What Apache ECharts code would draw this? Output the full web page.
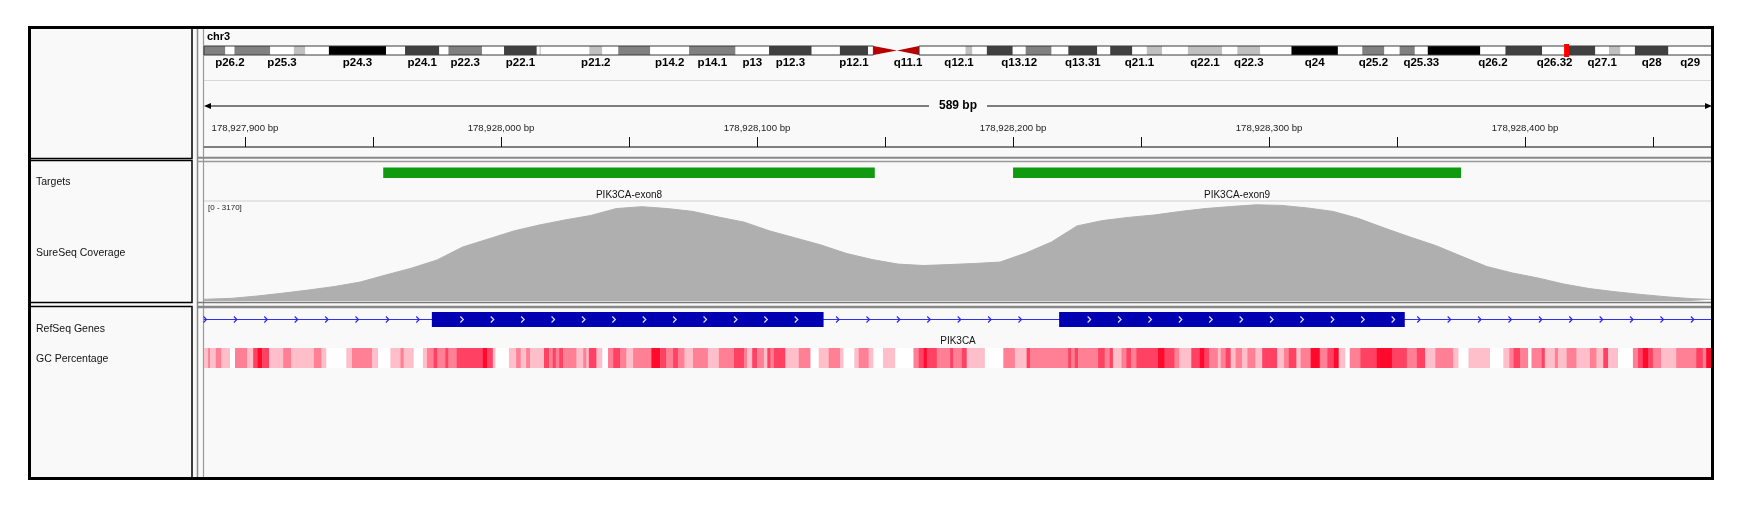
<!DOCTYPE html>
<html>
<head>
<meta charset="utf-8">
<script src="https://cdn.jsdelivr.net/npm/echarts@6/dist/echarts.min.js"></script>
<style>
html, body { margin: 0; padding: 0; background: #fff; }
#main { width: 1752px; height: 511px; }
</style>
</head>
<body>
<div id="main"></div>
<script>
// visible window on chr3 (bp)
var viewStart = 178927884;
var viewEnd = 178928473;
var BASE = 178927000;

// chr3 cytobands: name, start (Mb), end (Mb), stain
var chr3Length = 198.02243;
var chr3Bands = [
  ['p26.3', 0, 2.8, 'gpos50'], ['p26.2', 2.8, 4.0, 'gneg'], ['p26.1', 4.0, 8.7, 'gpos50'],
  ['p25.3', 8.7, 11.8, 'gneg'], ['p25.2', 11.8, 13.3, 'gpos25'], ['p25.1', 13.3, 16.4, 'gneg'],
  ['p24.3', 16.4, 23.9, 'gpos100'], ['p24.2', 23.9, 26.4, 'gneg'], ['p24.1', 26.4, 30.9, 'gpos75'],
  ['p23', 30.9, 32.1, 'gneg'], ['p22.3', 32.1, 36.5, 'gpos50'], ['p22.2', 36.5, 39.4, 'gneg'],
  ['p22.1', 39.4, 43.7, 'gpos75'], ['p21.33', 43.7, 44.1, 'gneg'], ['p21.32', 44.1, 44.2, 'gpos50'],
  ['p21.31', 44.2, 50.6, 'gneg'], ['p21.2', 50.6, 52.3, 'gpos25'], ['p21.1', 52.3, 54.4, 'gneg'],
  ['p14.3', 54.4, 58.6, 'gpos50'], ['p14.2', 58.6, 63.7, 'gneg'], ['p14.1', 63.7, 69.8, 'gpos50'],
  ['p13', 69.8, 74.2, 'gneg'], ['p12.3', 74.2, 79.8, 'gpos75'], ['p12.2', 79.8, 83.5, 'gneg'],
  ['p12.1', 83.5, 87.2, 'gpos75'], ['p11.2', 87.2, 87.9, 'gneg'], ['p11.1', 87.9, 91.0, 'acen'],
  ['q11.1', 91.0, 93.9, 'acen'], ['q11.2', 93.9, 98.3, 'gvar'], ['q12.1', 98.3, 100.0, 'gneg'],
  ['q12.2', 100.0, 100.9, 'gpos25'], ['q12.3', 100.9, 102.8, 'gneg'], ['q13.11', 102.8, 106.2, 'gpos75'],
  ['q13.12', 106.2, 107.9, 'gneg'], ['q13.13', 107.9, 111.3, 'gpos50'], ['q13.2', 111.3, 113.5, 'gneg'],
  ['q13.31', 113.5, 117.3, 'gpos75'], ['q13.32', 117.3, 119.0, 'gneg'], ['q13.33', 119.0, 121.9, 'gpos75'],
  ['q21.1', 121.9, 123.8, 'gneg'], ['q21.2', 123.8, 125.8, 'gpos25'], ['q21.3', 125.8, 129.2, 'gneg'],
  ['q22.1', 129.2, 133.7, 'gpos25'], ['q22.2', 133.7, 135.7, 'gneg'], ['q22.3', 135.7, 138.7, 'gpos25'],
  ['q23', 138.7, 142.8, 'gneg'], ['q24', 142.8, 148.9, 'gpos100'], ['q25.1', 148.9, 152.1, 'gneg'],
  ['q25.2', 152.1, 155.0, 'gpos50'], ['q25.31', 155.0, 157.0, 'gneg'], ['q25.32', 157.0, 159.0, 'gpos50'],
  ['q25.33', 159.0, 160.7, 'gneg'], ['q26.1', 160.7, 167.6, 'gpos100'], ['q26.2', 167.6, 170.9, 'gneg'],
  ['q26.31', 170.9, 175.7, 'gpos75'], ['q26.32', 175.7, 179.0, 'gneg'], ['q26.33', 179.0, 182.7, 'gpos75'],
  ['q27.1', 182.7, 184.5, 'gneg'], ['q27.2', 184.5, 186.0, 'gpos25'], ['q27.3', 186.0, 187.9, 'gneg'],
  ['q28', 187.9, 192.3, 'gpos75'], ['q29', 192.3, 198.02243, 'gneg']
];
var labeledBands = ['p26.2', 'p25.3', 'p24.3', 'p24.1', 'p22.3', 'p22.1', 'p21.2', 'p14.2', 'p14.1',
  'p13', 'p12.3', 'p12.1', 'q11.1', 'q12.1', 'q13.12', 'q13.31', 'q21.1', 'q22.1', 'q22.3', 'q24',
  'q25.2', 'q25.33', 'q26.2', 'q26.32', 'q27.1', 'q28', 'q29'];

// ruler
var rulerTicks = [178927900, 178927950, 178928000, 178928050, 178928100, 178928150,
  178928200, 178928250, 178928300, 178928350, 178928400, 178928450];
var rulerLabels = [178927900, 178928000, 178928100, 178928200, 178928300, 178928400];

// target regions
var targetNames = ['PIK3CA-exon8', 'PIK3CA-exon9'];
var targetStarts = [178927954, 178928200];
var targetEnds = [178928146, 178928375];

// coverage (position offset from BASE, depth)
var covMax = 3170;
var covPos = [884, 895, 905, 915, 925, 935, 945, 955, 965, 975, 985, 995, 1005, 1015, 1025, 1035,
  1045, 1055, 1065, 1075, 1085, 1095, 1105, 1115, 1125, 1135, 1145, 1155, 1165, 1175, 1185, 1195,
  1205, 1215, 1225, 1235, 1245, 1255, 1265, 1275, 1285, 1295, 1305, 1315, 1325, 1335, 1345, 1355,
  1365, 1375, 1385, 1395, 1405, 1415, 1425, 1435, 1445, 1455, 1465, 1473];
var covDepth = [54, 86, 160, 250, 350, 460, 600, 825, 1040, 1300, 1710, 1965, 2220, 2410, 2570, 2710,
  2930, 2990, 2930, 2840, 2660, 2500, 2220, 2000, 1775, 1505, 1315, 1170, 1125, 1155, 1190, 1235,
  1520, 1870, 2380, 2550, 2650, 2725, 2835, 2930, 2995, 3050, 3030, 2950, 2840, 2615, 2315, 2030,
  1760, 1425, 1095, 890, 730, 540, 395, 295, 210, 135, 75, 50];

// RefSeq gene
var geneName = 'PIK3CA';
var geneStart = 178866311;
var geneEnd = 178952497;
var exonStarts = [178927973, 178928218];
var exonEnds = [178928126, 178928353];

// GC percentage segments: [start offset from viewStart (bp), GC %]
var gcSegments = [
  [0, 45], [1.6, 55], [2.4, 45], [4.6, 55], [6.8, 45], [10.2, 30], [12.1, 55], [16.9, 45], [19.2, 65],
  [20.8, 75], [22.8, 65], [25.4, 45], [30.9, 55], [34.1, 45], [42.9, 55], [45.9, 45], [47.8, 30],
  [55.6, 45], [57.8, 55], [65.6, 45], [68.0, 30], [72.8, 45], [76.7, 55], [78.0, 45], [81.9, 30],
  [85.5, 45], [87.1, 55], [89.6, 65], [91.2, 55], [94.2, 65], [95.5, 55], [98.7, 65], [108.9, 75],
  [110.7, 65], [112.8, 45], [113.9, 30], [119.1, 45], [121.9, 55], [123.7, 45], [125.8, 55], [127.3, 45],
  [132.8, 65], [134.8, 55], [136.1, 65], [137.4, 55], [138.7, 65], [140.3, 55], [145.5, 45], [148.1, 55],
  [149.4, 45], [150.3, 65], [153.3, 45], [155.6, 30], [157.8, 55], [159.8, 65], [162.6, 55], [165.0, 45],
  [167.6, 55], [174.7, 75], [178.2, 65], [180.6, 55], [183.2, 65], [185.1, 55], [187.7, 45], [191.0, 55],
  [196.8, 45], [201.1, 55], [207.0, 65], [210.9, 55], [212.2, 45], [214.1, 65], [216.1, 55], [218.7, 45],
  [220.0, 65], [221.3, 55], [222.6, 65], [227.1, 45], [232.3, 55], [236.9, 30], [240.1, 45], [244.0, 55],
  [248.5, 45], [249.8, 30], [254.0, 45], [255.7, 55], [259.6, 45], [261.5, 30], [265.2, 45], [270.0, 30],
  [277.1, 55], [279.1, 65], [281.0, 75], [282.3, 65], [286.2, 55], [291.4, 65], [292.7, 55], [296.0, 65],
  [297.9, 45], [305.0, 30], [312.2, 55], [316.7, 45], [321.3, 65], [322.6, 55], [337.5, 65], [338.8, 55],
  [340.1, 65], [341.4, 55], [349.2, 65], [351.8, 55], [353.7, 65], [355.0, 45], [358.3, 55], [360.2, 65],
  [362.2, 55], [364.1, 65], [372.6, 75], [375.2, 65], [379.1, 55], [381.0, 45], [385.6, 65], [388.8, 75],
  [390.8, 65], [392.7, 55], [396.0, 45], [397.1, 55], [399.0, 65], [401.0, 45], [402.9, 55], [405.5, 45],
  [407.5, 55], [410.7, 45], [413.3, 65], [419.2, 45], [421.8, 55], [423.7, 65], [426.7, 45], [428.3, 55],
  [432.2, 75], [435.8, 55], [438.7, 65], [441.3, 75], [443.2, 45], [445.8, 30], [447.5, 55], [451.6, 65],
  [457.9, 75], [464.0, 65], [469.8, 55], [473.7, 65], [477.0, 45], [480.9, 55], [488.0, 45], [490.0, 30],
  [493.9, 45], [502.3, 30], [507.5, 45], [509.8, 55], [511.4, 65], [514.0, 55], [517.2, 30], [518.5, 55],
  [522.4, 65], [523.7, 45], [527.6, 55], [528.9, 45], [532.2, 55], [536.1, 45], [541.3, 55], [543.9, 45],
  [546.5, 65], [548.4, 45], [552.3, 30], [558.1, 55], [560.1, 65], [562.0, 75], [564.0, 65], [565.9, 55],
  [569.2, 45], [575.0, 55], [582.8, 65], [585.4, 55], [586.7, 75]
];

var FONT = '"Liberation Sans", Arial, sans-serif';
var stainColor = { gneg: '#ffffff', gvar: '#ffffff', gpos25: '#c0c0c0', gpos50: '#808080', gpos75: '#404040', gpos100: '#000000' };

function gcColor(p) {
  if (p < 40) return '#ffffff';
  if (p < 50) return '#ffbfca';
  if (p < 60) return '#ff8094';
  if (p < 70) return '#ff4263';
  return '#ff0a2c';
}

function fmtBp(v) {
  return String(v).replace(/\B(?=(\d{3})+(?!\d))/g, ',') + ' bp';
}

// ---- ideogram
function renderBand(params, api) {
  var b = chr3Bands[params.dataIndex];
  var cs = params.coordSys;
  var x0 = api.coord([b[1], 0])[0];
  var x1 = api.coord([b[2], 0])[0];
  var top = cs.y, h = cs.height;
  var kids = [];
  if (b[3] === 'acen') {
    var pts = b[0].charAt(0) === 'p'
      ? [[x0, top], [x1, top + h / 2], [x0, top + h]]
      : [[x1, top], [x0, top + h / 2], [x1, top + h]];
    kids.push({ type: 'polygon', shape: { points: pts }, style: { fill: '#b80000' } });
  } else {
    kids.push({ type: 'rect', shape: { x: x0, y: top, width: x1 - x0, height: h }, style: { fill: stainColor[b[3]] } });
  }
  if (labeledBands.indexOf(b[0]) >= 0) {
    kids.push({ type: 'text', x: (x0 + x1) / 2, y: top + h + 7.5,
      style: { text: b[0], font: 'bold 11.5px ' + FONT, fill: '#000', align: 'center', verticalAlign: 'middle' } });
  }
  return { type: 'group', children: kids };
}

function renderArm(params, api) {
  var cs = params.coordSys;
  var x0 = api.coord([api.value(0), 0])[0];
  var x1 = api.coord([api.value(1), 0])[0];
  return { type: 'rect', shape: { x: x0, y: cs.y, width: x1 - x0, height: cs.height },
    style: { fill: null, stroke: '#3a3a3a', lineWidth: 1 } };
}

function renderMarker(params, api) {
  var cs = params.coordSys;
  var x = api.coord([api.value(0), 0])[0];
  return { type: 'rect', shape: { x: x - 2.5, y: cs.y - 2, width: 5, height: cs.height + 4 }, style: { fill: '#ff0000' } };
}

// ---- ruler span arrow
function renderSpan(params, api) {
  var cs = params.coordSys;
  var x0 = api.coord([api.value(0), 0])[0];
  var x1 = api.coord([api.value(1), 0])[0];
  var y = cs.y + cs.height / 2;
  var len = Math.round(api.value(1) - api.value(0));
  return { type: 'group', children: [
    { type: 'line', shape: { x1: x0 + 4, y1: y, x2: x1 - 4, y2: y }, style: { stroke: '#000', lineWidth: 1 } },
    { type: 'polygon', shape: { points: [[x0, y], [x0 + 7, y - 3], [x0 + 7, y + 3]] }, style: { fill: '#000' } },
    { type: 'polygon', shape: { points: [[x1, y], [x1 - 7, y - 3], [x1 - 7, y + 3]] }, style: { fill: '#000' } },
    { type: 'text', x: (x0 + x1) / 2, y: y,
      style: { text: len + ' bp', font: 'bold 12px ' + FONT, fill: '#000', align: 'center', verticalAlign: 'middle',
        backgroundColor: '#f9f9f9', padding: [1, 10, 1, 10] } }
  ] };
}

// ---- targets
function renderTarget(params, api) {
  var cs = params.coordSys;
  var i = params.dataIndex;
  var x0 = api.coord([api.value(0), 0])[0];
  var x1 = api.coord([api.value(1), 0])[0];
  return { type: 'group', children: [
    { type: 'rect', shape: { x: x0, y: cs.y + 6.5, width: x1 - x0, height: 10.5 }, style: { fill: '#109a10' } },
    { type: 'text', x: (x0 + x1) / 2, y: cs.y + 34,
      style: { text: targetNames[i], font: '10px ' + FONT, fill: '#111', align: 'center', verticalAlign: 'middle' } }
  ] };
}

// ---- RefSeq gene
function chevron(x, y, color) {
  return { type: 'polyline', shape: { points: [[x - 1.5, y - 3], [x + 1.5, y], [x - 1.5, y + 3]] },
    style: { stroke: color, lineWidth: 1.2, fill: null } };
}
function renderGene(params, api) {
  var cs = params.coordSys;
  var left = cs.x, right = cs.x + cs.width;
  var a = Math.max(api.coord([api.value(0), 0])[0], left);
  var b = Math.min(api.coord([api.value(1), 0])[0], right);
  var yMid = cs.y + cs.height / 2;
  var kids = [{ type: 'line', shape: { x1: a, y1: yMid, x2: b, y2: yMid }, style: { stroke: '#3030ee', lineWidth: 1 } }];
  var ex = exonStarts.map(function (s, k) {
    return [api.coord([s, 0])[0], api.coord([exonEnds[k], 0])[0]];
  });
  var introns = [];
  var prev = a;
  ex.forEach(function (e) { introns.push([prev, e[0]]); prev = e[1]; });
  introns.push([prev, b]);
  introns.forEach(function (seg) {
    var x = seg[0] <= left + 0.5 ? left + 1 : seg[0] + 14;
    for (; x < seg[1] - 9; x += 30.4) kids.push(chevron(x, yMid, '#2a2aee'));
  });
  ex.forEach(function (e) {
    kids.push({ type: 'rect', shape: { x: e[0], y: cs.y, width: e[1] - e[0], height: cs.height }, style: { fill: '#0000b2' } });
    for (var x = e[0] + 30; x < e[1] - 8; x += 30.4) kids.push(chevron(x, yMid, '#e0e0ff'));
  });
  kids.push({ type: 'text', x: (a + b) / 2, y: cs.y + cs.height + 14,
    style: { text: geneName, font: '10px ' + FONT, fill: '#111', align: 'center', verticalAlign: 'middle' } });
  return { type: 'group', children: kids };
}

// ---- GC heat strip
function renderGC(params, api) {
  var cs = params.coordSys;
  var x0 = api.coord([api.value(0), 0])[0];
  var x1 = api.coord([api.value(1), 0])[0];
  return { type: 'rect', shape: { x: x0, y: cs.y, width: x1 - x0 + 0.3, height: cs.height },
    style: { fill: gcColor(api.value(2)) } };
}

var gcData = gcSegments.map(function (s, i) {
  var end = i + 1 < gcSegments.length ? gcSegments[i + 1][0] : viewEnd - viewStart;
  return [viewStart + s[0], viewStart + end, s[1]];
});

var L = 204, W = 1508;
function gx(grid, extra) {
  var o = { gridIndex: grid, type: 'value', min: viewStart, max: viewEnd, show: false, splitLine: { show: false } };
  for (var k in extra) o[k] = extra[k];
  return o;
}
function gy(grid, max) {
  return { gridIndex: grid, type: 'value', min: 0, max: max || 1, show: false, splitLine: { show: false } };
}

var option = {
  animation: false,
  textStyle: { fontFamily: FONT },
  grid: [
    { left: L, width: W, top: 46, height: 9 },     // 0 ideogram
    { left: L, width: W, top: 137, height: 10 },   // 1 ruler ticks
    { left: L, width: W, top: 100, height: 12 },   // 2 span arrow
    { left: L, width: W, top: 161, height: 40 },   // 3 targets
    { left: L, width: W, top: 201, height: 100 },  // 4 coverage
    { left: L, width: W, top: 312, height: 15 },   // 5 refseq
    { left: L, width: W, top: 348, height: 20 }    // 6 gc
  ],
  xAxis: [
    { gridIndex: 0, type: 'value', min: 0, max: chr3Length, show: false, splitLine: { show: false } },
    gx(1, {
      show: true, position: 'bottom',
      axisLine: { show: true, onZero: false, lineStyle: { color: '#808080', width: 2 } },
      axisTick: { show: true, inside: true, length: 10, customValues: rulerTicks, lineStyle: { color: '#111', width: 1 } },
      axisLabel: { show: false }
    }),
    gx(1, {
      show: true, position: 'top',
      axisLine: { show: false }, axisTick: { show: false },
      axisLabel: { show: true, customValues: rulerLabels, margin: 4, fontSize: 9.6, color: '#222', fontFamily: FONT,
        formatter: function (v) { return fmtBp(v); } }
    }),
    gx(2), gx(3), gx(4), gx(5), gx(6)
  ],
  yAxis: [gy(0), gy(1), gy(2), gy(3), gy(4, covMax), gy(5), gy(6)],
  graphic: { elements: [
    { type: 'rect', shape: { x: 29.5, y: 27.5, width: 1683, height: 451 }, style: { fill: '#f9f9f9', stroke: null } },
    // name panel boxes
    { type: 'rect', shape: { x: 29.5, y: 27.5, width: 162.5, height: 131 }, style: { fill: null, stroke: '#000', lineWidth: 1.5 } },
    { type: 'rect', shape: { x: 29.5, y: 160.5, width: 162.5, height: 142 }, style: { fill: null, stroke: '#000', lineWidth: 1.5 } },
    { type: 'rect', shape: { x: 29.5, y: 306.5, width: 162.5, height: 172 }, style: { fill: null, stroke: '#000', lineWidth: 1.5 } },
    // attribute column lines
    { type: 'line', shape: { x1: 197.5, y1: 27, x2: 197.5, y2: 479 }, style: { stroke: '#8a8a8a', lineWidth: 1.5 } },
    { type: 'line', shape: { x1: 203.5, y1: 27, x2: 203.5, y2: 479 }, style: { stroke: '#9a9a9a', lineWidth: 1.2 } },
    // data panel separators
    { type: 'line', shape: { x1: 197, y1: 157.7, x2: 1712, y2: 157.7 }, style: { stroke: '#888', lineWidth: 2 } },
    { type: 'line', shape: { x1: 197, y1: 161.5, x2: 1712, y2: 161.5 }, style: { stroke: '#999', lineWidth: 1.5 } },
    { type: 'line', shape: { x1: 197, y1: 302.5, x2: 1712, y2: 302.5 }, style: { stroke: '#777', lineWidth: 1.6 } },
    { type: 'line', shape: { x1: 197, y1: 307, x2: 1712, y2: 307 }, style: { stroke: '#888', lineWidth: 2.5 } },
    { type: 'line', shape: { x1: 204, y1: 80.5, x2: 1712, y2: 80.5 }, style: { stroke: '#d8d8d8', lineWidth: 1 } },
    { type: 'line', shape: { x1: 204, y1: 201, x2: 1712, y2: 201 }, style: { stroke: '#cfcfcf', lineWidth: 1 } },
    // texts
    { type: 'text', x: 207, y: 37, style: { text: 'chr3', font: 'bold 11px ' + FONT, fill: '#000', verticalAlign: 'middle' } },
    { type: 'text', x: 36, y: 182, style: { text: 'Targets', font: '10.5px ' + FONT, fill: '#111', verticalAlign: 'middle' } },
    { type: 'text', x: 36, y: 253, style: { text: 'SureSeq Coverage', font: '10.5px ' + FONT, fill: '#111', verticalAlign: 'middle' } },
    { type: 'text', x: 36, y: 329, style: { text: 'RefSeq Genes', font: '10.5px ' + FONT, fill: '#111', verticalAlign: 'middle' } },
    { type: 'text', x: 36, y: 359, style: { text: 'GC Percentage', font: '10.5px ' + FONT, fill: '#111', verticalAlign: 'middle' } },
    { type: 'text', x: 208, y: 208, style: { text: '[0 - ' + covMax + ']', font: '8px ' + FONT, fill: '#222', verticalAlign: 'middle' } },
    // outer frame
    { type: 'rect', z: 100, shape: { x: 29.5, y: 27.5, width: 1683, height: 451 }, style: { fill: null, stroke: '#000', lineWidth: 3 } }
  ] },
  series: [
    { type: 'custom', xAxisIndex: 0, yAxisIndex: 0, renderItem: renderBand, encode: { x: [1, 2] },
      data: chr3Bands.map(function (b) { return [b[0], b[1], b[2]]; }) },
    { type: 'custom', xAxisIndex: 0, yAxisIndex: 0, renderItem: renderArm, encode: { x: [0, 1] },
      data: [[0, 87.9], [93.9, chr3Length]] },
    { type: 'custom', xAxisIndex: 0, yAxisIndex: 0, renderItem: renderMarker, encode: { x: 0 },
      data: [[(viewStart + viewEnd) / 2 / 1e6]] },
    { type: 'custom', xAxisIndex: 3, yAxisIndex: 2, renderItem: renderSpan, encode: { x: [0, 1] },
      data: [[viewStart, viewEnd]] },
    { type: 'custom', xAxisIndex: 4, yAxisIndex: 3, renderItem: renderTarget, encode: { x: [0, 1] },
      data: targetStarts.map(function (s, i) { return [s, targetEnds[i]]; }) },
    { type: 'line', xAxisIndex: 5, yAxisIndex: 4, showSymbol: false, symbol: 'none',
      lineStyle: { color: '#afafaf', width: 1 }, areaStyle: { color: '#afafaf', opacity: 1 },
      data: covPos.map(function (p, i) { return [BASE + p, covDepth[i]]; }) },
    { type: 'custom', xAxisIndex: 6, yAxisIndex: 5, renderItem: renderGene, encode: { x: [0, 1] },
      data: [[geneStart, geneEnd]] },
    { type: 'custom', xAxisIndex: 7, yAxisIndex: 6, renderItem: renderGC, encode: { x: [0, 1] },
      data: gcData }
  ]
};

var chart = echarts.init(document.getElementById('main'), null, { renderer: 'canvas' });
chart.setOption(option);
</script>
</body>
</html>
